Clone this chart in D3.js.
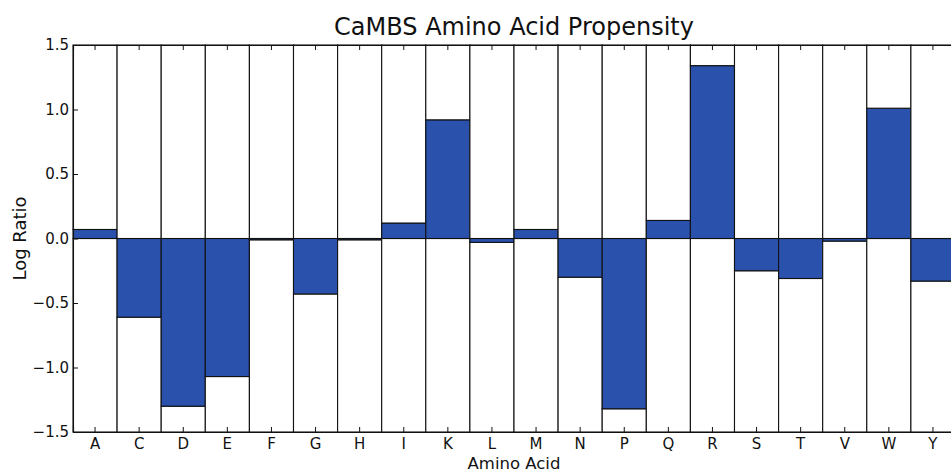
<!DOCTYPE html>
<html>
<head>
<meta charset="utf-8">
<script src="https://cdn.jsdelivr.net/npm/d3@7"></script>
<style>
  body { margin: 0; background: #fff; }
  svg { display: block; font-family: 'DejaVu Sans', sans-serif; }
</style>
</head>
<body>
<svg></svg>
<script>
const aminoAcids = ['A','C','D','E','F','G','H','I','K','L','M','N','P','Q','R','S','T','V','W','Y'];
const logRatios = [0.07,-0.61,-1.30,-1.07,-0.01,-0.43,-0.01,0.12,0.92,-0.03,0.07,-0.30,-1.32,0.14,1.34,-0.25,-0.31,-0.02,1.01,-0.33];
const yTicks = [-1.5,-1.0,-0.5,0.0,0.5,1.0,1.5];

const width = 951;
const height = 473;
const margin = {left: 73, top: 45, bottom: 41};
const plotRight = 955;

const svg = d3.select('svg')
    .attr('width', width)
    .attr('height', height);

const data = aminoAcids.map((a, i) => ({name: a, value: logRatios[i]}));

const x = d3.scaleBand()
    .domain(aminoAcids)
    .range([margin.left, plotRight])
    .padding(0);

const y = d3.scaleLinear()
    .domain([-1.5, 1.5])
    .range([height - margin.bottom, margin.top]);

const blue = '#2a52ad';

// each column: white below, blue between 0 and value, white above
const segments = [];
data.forEach(d => {
    const lo = Math.min(0, d.value), hi = Math.max(0, d.value);
    segments.push({name: d.name, y0: -1.5, y1: lo, fill: '#fff'});
    segments.push({name: d.name, y0: lo, y1: hi, fill: blue});
    segments.push({name: d.name, y0: hi, y1: 1.5, fill: '#fff'});
});

svg.append('g')
    .selectAll('rect')
    .data(segments)
    .enter()
    .append('rect')
        .attr('x', d => x(d.name))
        .attr('width', x.bandwidth())
        .attr('y', d => y(d.y1))
        .attr('height', d => y(d.y0) - y(d.y1))
        .attr('fill', d => d.fill)
        .attr('stroke', '#111')
        .attr('stroke-width', 1.1);

// axes with inward ticks
const tickLen = 5;
const xAxisBottom = svg.append('g')
    .attr('transform', `translate(0,${y(-1.5)})`)
    .call(d3.axisBottom(x).tickSize(-tickLen).tickPadding(6));
const xAxisTop = svg.append('g')
    .attr('transform', `translate(0,${y(1.5)})`)
    .call(d3.axisTop(x).tickSize(-tickLen).tickFormat(''));
const yAxis = svg.append('g')
    .attr('transform', `translate(${margin.left},0)`)
    .call(d3.axisLeft(y).tickValues(yTicks).tickSize(-tickLen).tickPadding(4)
        .tickFormat(d => d3.format('.1f')(d).replace('-', '\u2212')));

[xAxisBottom, xAxisTop, yAxis].forEach(g => {
    g.select('.domain').attr('stroke', '#111').attr('stroke-width', 1.1);
    g.selectAll('.tick line').attr('stroke', '#111');
    g.selectAll('.tick text').attr('fill', '#111').attr('font-family', 'DejaVu Sans');
});
xAxisBottom.selectAll('.tick text').style('font-size', '15px');
yAxis.selectAll('.tick text').style('font-size', '15px');

svg.append('text')
    .attr('x', (margin.left + plotRight) / 2)
    .attr('y', 35)
    .attr('text-anchor', 'middle')
    .style('font-size', '24px')
    .attr('fill', '#111')
    .text('CaMBS Amino Acid Propensity');

svg.append('text')
    .attr('x', (margin.left + plotRight) / 2)
    .attr('y', 469)
    .attr('text-anchor', 'middle')
    .style('font-size', '16.5px')
    .attr('fill', '#111')
    .text('Amino Acid');

svg.append('text')
    .attr('transform', `translate(26,${y(0)}) rotate(-90)`)
    .attr('text-anchor', 'middle')
    .style('font-size', '18px')
    .attr('fill', '#111')
    .text('Log Ratio');
</script>
</body>
</html>
